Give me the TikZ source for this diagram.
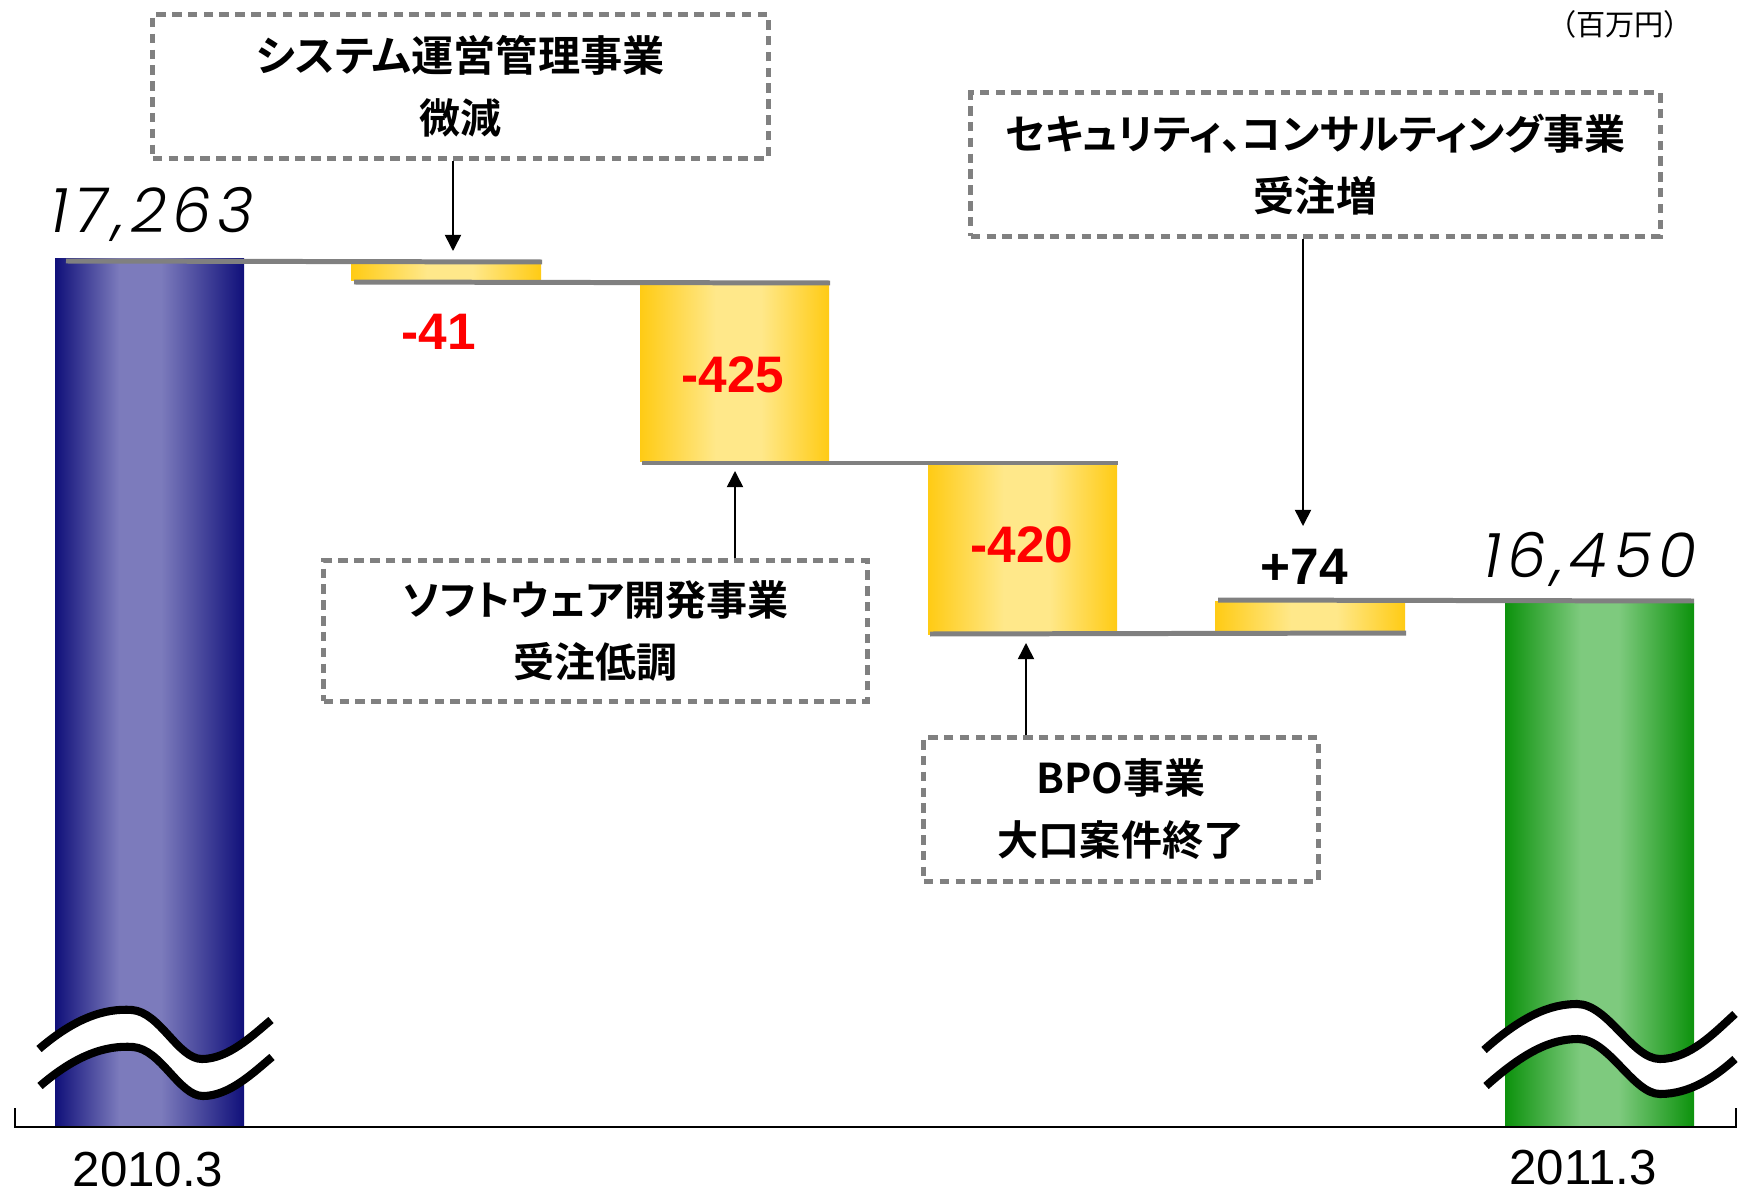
\documentclass[tikz,border=0pt]{standalone}
\usepackage{fontspec}
\usetikzlibrary{arrows.meta}
\newfontfamily\jpb{Noto Sans CJK JP Bold}[RawFeature=+palt]
\newfontfamily\jpr{Noto Sans CJK JP}
\newfontfamily\lib{Liberation Sans}
\newfontfamily\numfont{Poppins Light Italic}[LetterSpace=10]
\definecolor{bdark}{HTML}{10107A}
\definecolor{blight}{HTML}{7C7BBC}
\definecolor{gdark}{HTML}{0C920C}
\definecolor{glight}{HTML}{7ECA7E}
\definecolor{ydark}{HTML}{FFCB14}
\definecolor{ylight}{HTML}{FFE88A}
\definecolor{lgray}{HTML}{808080}
\definecolor{numred}{HTML}{FF0000}
\pgfdeclarehorizontalshading{blueshade}{100bp}{color(0bp)=(bdark); color(25bp)=(bdark); color(42bp)=(blight); color(53bp)=(blight); color(75bp)=(bdark); color(100bp)=(bdark)}
\pgfdeclarehorizontalshading{greenshade}{100bp}{color(0bp)=(gdark); color(25bp)=(gdark); color(45bp)=(glight); color(55bp)=(glight); color(75bp)=(gdark); color(100bp)=(gdark)}
\pgfdeclarehorizontalshading{goldshade}{100bp}{color(0bp)=(ydark); color(25bp)=(ydark); color(45bp)=(ylight); color(57bp)=(ylight); color(75bp)=(ydark); color(100bp)=(ydark)}
\begin{document}
\begin{tikzpicture}[x=0.01cm,y=-0.01cm,
  levelline/.style={draw=lgray,line width=1.42pt},
  breakline/.style={draw=black,line width=2.3pt},
  callout/.style={draw=lgray,line width=1.42pt,dash pattern=on 2.7pt off 1.8pt,align=center,inner sep=0pt,
    font=\jpb\fontsize{11.67}{17.64}\selectfont},
  conn/.style={draw=black,line width=0.45pt,-{Triangle[length=4.6pt,width=4.6pt]}},
  bignum/.style={font=\numfont\fontsize{17.6}{20}\selectfont,inner sep=0pt},
  rednum/.style={font=\lib\bfseries\fontsize{14.6}{16}\selectfont,text=numred,inner sep=0pt},
  blacknum/.style={font=\lib\bfseries\fontsize{14.6}{16}\selectfont,text=black,inner sep=0pt},
  yearlab/.style={font=\lib\fontsize{14}{16}\selectfont,inner sep=0pt},
  unitlab/.style={font=\jpr\fontsize{8.3}{9}\selectfont,inner sep=0pt}]
\useasboundingbox (0,0) rectangle (1739,1194);
% bars
\shade[shading=blueshade] (55,259) rectangle (244,1127);
\shade[shading=greenshade] (1505,603) rectangle (1694,1127);
\shade[shading=goldshade] (351,264) rectangle (541,281);
\shade[shading=goldshade] (640,285) rectangle (829,461);
\shade[shading=goldshade] (928,464) rectangle (1117,634);
\shade[shading=goldshade] (1215,601) rectangle (1405,630);
% level lines
\draw[levelline] (66,261) -- (542,262);
\draw[levelline] (354,282) -- (830,283);
\draw[levelline] (642,463) -- (1118,463);
\draw[levelline] (930,634) -- (1406,633);
\draw[levelline] (1218,600) -- (1694,601);
% break marks
\fill[white] (39,1049) .. controls (75,1018) and (105,1008) .. (132,1010) .. controls (160,1012) and (178,1059) .. (202,1059) .. controls (228,1059) and (252,1036) .. (271,1020)
  -- (272,1057) .. controls (253,1073) and (229,1096) .. (203,1096) .. controls (179,1096) and (161,1049) .. (133,1047) .. controls (106,1045) and (76,1055) .. (40,1086) -- cycle;
\draw[breakline] (39,1049) .. controls (75,1018) and (105,1008) .. (132,1010) .. controls (160,1012) and (178,1059) .. (202,1059) .. controls (228,1059) and (252,1036) .. (271,1020);
\draw[breakline] (40,1086) .. controls (76,1055) and (106,1045) .. (133,1047) .. controls (161,1049) and (179,1096) .. (203,1096) .. controls (229,1096) and (253,1073) .. (272,1057);
\fill[white] (1484,1050) .. controls (1522,1016) and (1550,1004) .. (1577,1004) .. controls (1608,1004) and (1632,1059) .. (1660,1059) .. controls (1690,1059) and (1715,1032) .. (1735,1014)
  -- (1735,1059) .. controls (1715,1077) and (1690,1094) .. (1660,1094) .. controls (1633,1094) and (1609,1039) .. (1578,1039) .. controls (1551,1039) and (1524,1052) .. (1486,1086) -- cycle;
\draw[breakline] (1484,1050) .. controls (1522,1016) and (1550,1004) .. (1577,1004) .. controls (1608,1004) and (1632,1059) .. (1660,1059) .. controls (1690,1059) and (1715,1032) .. (1735,1014);
\draw[breakline] (1486,1086) .. controls (1524,1052) and (1551,1039) .. (1578,1039) .. controls (1609,1039) and (1633,1094) .. (1660,1094) .. controls (1690,1094) and (1715,1077) .. (1735,1059);
% axis
\draw[line width=0.7pt] (15,1108) -- (15,1127) -- (1736,1127) -- (1736,1108);
% values
\node[bignum,anchor=base west] (v1) at (50,233) {17,263};
\node[bignum,anchor=base west] (v2) at (1483,577) {16,450};
\node[rednum,anchor=base] (d1) at (439,349) {-41};
\node[rednum,anchor=base] (d2) at (733,393) {-425};
\node[rednum,anchor=base] (d3) at (1022,562) {-420};
\node[blacknum,anchor=base] (d4) at (1304,584) {+74};
\node[yearlab,anchor=base] (y1) at (148,1186) {2010.3};
\node[yearlab,anchor=base] (y2) at (1583,1184) {2011.3};
\node[unitlab] (u) at (1620,24) {（百万円）};
% callouts
\node[callout,minimum width=6.15cm,minimum height=1.43cm] (b1) at (460.5,86.5) {{\fontsize{12}{17.64}\selectfont システム運営管理事業}\\微減};
\node[callout,minimum width=6.89cm,minimum height=1.43cm] (b3) at (1315.5,164.5) {セキュリティ、コンサルティング事業\\受注増};
\node[callout,minimum width=5.43cm,minimum height=1.40cm] (b2) at (595.5,631) {ソフトウェア開発事業\\受注低調};
\node[callout,minimum width=3.94cm,minimum height=1.43cm] (b4) at (1121,809.5) {BPO事業\\大口案件終了};
% arrows
\coordinate (t1) at (453,251);
\coordinate (t2) at (735,471);
\coordinate (t3) at (1303,526);
\coordinate (t4) at (1026,643);
\draw[conn] (b1.south -| t1) -- (t1);
\draw[conn] (b2.north -| t2) -- (t2);
\draw[conn] (b3.south -| t3) -- (t3);
\draw[conn] (b4.north -| t4) -- (t4);
\end{tikzpicture}
\end{document}
